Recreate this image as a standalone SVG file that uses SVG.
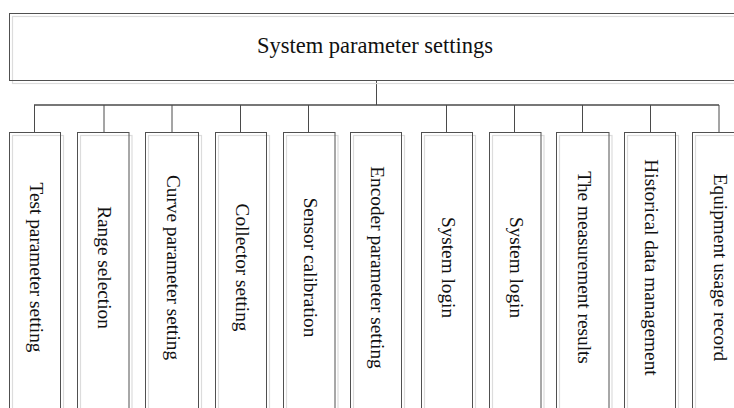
<svg xmlns="http://www.w3.org/2000/svg" width="734" height="408" viewBox="0 0 734 408">
<style>
.box{fill:none;stroke:#505050;stroke-width:1}
.sh{fill:none;stroke:#dcdcdc;stroke-width:1.2}
.lbl{font-family:"Liberation Serif","Times New Roman",serif;font-size:19.3px;fill:#111;text-anchor:middle}
.hd{font-family:"Liberation Serif","Times New Roman",serif;font-size:22.5px;fill:#111;text-anchor:middle}
.ln{stroke:#4a4a4a;stroke-width:1;fill:none}
.bus{stroke:#4a4a4a;stroke-width:1.4;fill:none}
</style>
<rect width="734" height="408" fill="#fff"/>
<g id="connectors">
<line class="ln" x1="376.5" y1="80.5" x2="376.5" y2="105"/>
<line class="bus" x1="34" y1="105" x2="719" y2="105"/>
<line class="ln" x1="34.5" y1="105" x2="34.5" y2="132.5"/>
<line class="ln" x1="104" y1="105" x2="104" y2="132.5"/>
<line class="ln" x1="172" y1="105" x2="172" y2="132.5"/>
<line class="ln" x1="240.5" y1="105" x2="240.5" y2="132.5"/>
<line class="ln" x1="308.5" y1="105" x2="308.5" y2="132.5"/>
<line class="ln" x1="446.5" y1="105" x2="446.5" y2="132.5"/>
<line class="ln" x1="514.5" y1="105" x2="514.5" y2="132.5"/>
<line class="ln" x1="582.5" y1="105" x2="582.5" y2="132.5"/>
<line class="ln" x1="650.5" y1="105" x2="650.5" y2="132.5"/>
<line class="ln" x1="719" y1="105" x2="719" y2="132.5"/>
</g>
<g id="root">
<rect class="sh" x="12.5" y="16.5" width="732" height="67"/>
<rect class="box" x="9.5" y="13.5" width="732" height="67"/>
<text class="hd" x="375" y="53.3">System parameter settings</text>
</g>
<g id="n1">
<rect class="sh" x="12.5" y="135.5" width="51" height="285"/>
<rect class="box" x="9.5" y="132.5" width="51" height="285"/>
<text class="lbl" transform="translate(29.5,267.5) rotate(90)">Test parameter setting</text>
</g>
<g id="n2">
<rect class="sh" x="80.5" y="135.5" width="51.5" height="285"/>
<rect class="box" x="77.5" y="132.5" width="51.5" height="285"/>
<text class="lbl" transform="translate(98,267.5) rotate(90)">Range selection</text>
</g>
<g id="n3">
<rect class="sh" x="148.5" y="135.5" width="53" height="285"/>
<rect class="box" x="145.5" y="132.5" width="53" height="285"/>
<text class="lbl" transform="translate(166.5,267.5) rotate(90)">Curve parameter setting</text>
</g>
<g id="n4">
<rect class="sh" x="218.5" y="135.5" width="51" height="285"/>
<rect class="box" x="215.5" y="132.5" width="51" height="285"/>
<text class="lbl" transform="translate(235.5,267.5) rotate(90)">Collector setting</text>
</g>
<g id="n5">
<rect class="sh" x="286.5" y="135.5" width="51.5" height="285"/>
<rect class="box" x="283.5" y="132.5" width="51.5" height="285"/>
<text class="lbl" transform="translate(303.5,267.5) rotate(90)">Sensor calibration</text>
</g>
<g id="n6">
<rect class="sh" x="353.5" y="135.5" width="51" height="285"/>
<rect class="box" x="350.5" y="132.5" width="51" height="285"/>
<text class="lbl" transform="translate(370.5,267.5) rotate(90)">Encoder parameter setting</text>
</g>
<g id="n7">
<rect class="sh" x="424.5" y="135.5" width="51" height="285"/>
<rect class="box" x="421.5" y="132.5" width="51" height="285"/>
<text class="lbl" transform="translate(441.5,267.5) rotate(90)">System login</text>
</g>
<g id="n8">
<rect class="sh" x="492.5" y="135.5" width="51.5" height="285"/>
<rect class="box" x="489.5" y="132.5" width="51.5" height="285"/>
<text class="lbl" transform="translate(509.5,267.5) rotate(90)">System login</text>
</g>
<g id="n9">
<rect class="sh" x="559.5" y="135.5" width="52.5" height="285"/>
<rect class="box" x="556.5" y="132.5" width="52.5" height="285"/>
<text class="lbl" transform="translate(577.5,267.5) rotate(90)">The measurement results</text>
</g>
<g id="n10">
<rect class="sh" x="627.5" y="135.5" width="51" height="285"/>
<rect class="box" x="624.5" y="132.5" width="51" height="285"/>
<text class="lbl" transform="translate(645,267.5) rotate(90)">Historical data management</text>
</g>
<g id="n11">
<rect class="sh" x="695.5" y="135.5" width="52" height="285"/>
<rect class="box" x="692.5" y="132.5" width="52" height="285"/>
<text class="lbl" transform="translate(713.5,267.5) rotate(90)">Equipment usage record</text>
</g>
</svg>
